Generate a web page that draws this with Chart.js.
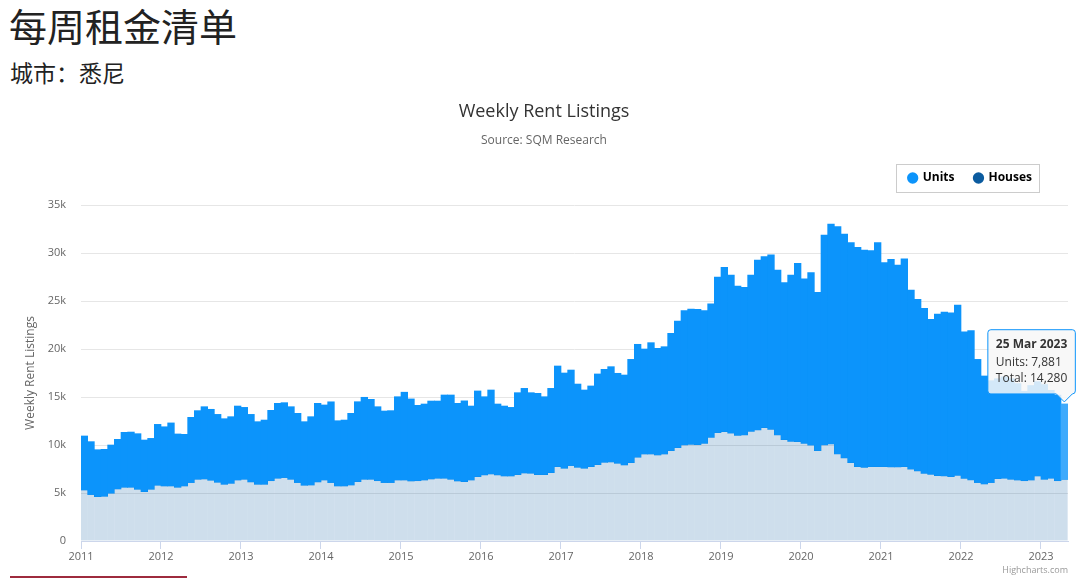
<!DOCTYPE html>
<html lang="zh">
<head>
<meta charset="utf-8">
<title>每周租金清单</title>
<script src="https://cdn.jsdelivr.net/npm/chart.js@4"></script>
<style>
  html, body { margin: 0; padding: 0; background: #fff; }
  body { width: 1080px; height: 578px; position: relative; overflow: hidden; font-family: "Noto Sans CJK SC", sans-serif; color: #222; }
  h1 { position: absolute; left: 9px; top: 6px; margin: 0; font-size: 38px; font-weight: 400; line-height: 1; }
  h2 { position: absolute; left: 10px; top: 61px; margin: 0; font-size: 23px; font-weight: 400; line-height: 1; }
  .box { position: absolute; left: 0; top: 88px; width: 1080px; height: 490px; }
  .credit { position: absolute; right: 12px; top: 563px; font: 9px "Open Sans", sans-serif; color: #999; }
  .rule { position: absolute; left: 10px; top: 576px; width: 177px; height: 2px; background: #9e2b3e; }
</style>
</head>
<body>
<h1>每周租金清单</h1>
<h2>城市：悉尼</h2>
<div class="box"><canvas id="rent-chart"></canvas></div>
<div class="credit">Highcharts.com</div>
<div class="rule"></div>
<script>
// monthly readings, Jan 2011 .. Mar 2023 (last one is the 25 Mar 2023 week)
const startYear = 2011;
const lastDate = '25 Mar 2023';
const monthNames = ['Jan', 'Feb', 'Mar', 'Apr', 'May', 'Jun', 'Jul', 'Aug', 'Sep', 'Oct', 'Nov', 'Dec'];

const units = [
  5630, 5520, 4890, 4900, 5030, 5170, 5730, 5760, 5800, 5380, 5310, 6350,
  6170, 6570, 5560, 5380, 6800, 7160, 7530, 7400, 7080, 6840, 6950, 7710,
  7500, 7040, 6530, 6700, 7330, 7810, 7810, 7570, 7220, 6630, 7120, 8190,
  7820, 8420, 6800, 6870, 7470, 8330, 8550, 8340, 7710, 7460, 7500, 8680,
  9150, 8550, 7850, 7920, 8120, 8050, 8680, 8790, 8090, 8420, 7710, 8930,
  8150, 8750, 7390, 7290, 7150, 8540, 8820, 8400, 8470, 8120, 8780, 10490,
  9930, 9960, 8680, 8160, 8410, 9450, 9690, 9930, 9380, 9370, 10760, 11770,
  10940, 11600, 11110, 11180, 12220, 13200, 13990, 14100, 14100, 13820, 13900, 16220,
  17110, 16480, 15550, 15380, 16280, 17710, 17810, 18170, 17190, 16350, 17320, 18570,
  17130, 17980, 16490, 21870, 22920, 23680, 23330, 22920, 22850, 22640, 22500, 23340,
  21260, 21630, 21040, 21660, 18680, 17880, 17190, 16150, 16840, 17080, 17080, 17740,
  15270, 15560, 12840, 11250, 10620, 10410, 10570, 10480, 10050, 9320, 9850, 9830,
  9880, 9170, 8920, 7881
];

const houses = [
  5310, 4830, 4620, 4650, 4970, 5420, 5590, 5590, 5380, 5140, 5380, 5800,
  5730, 5730, 5590, 5730, 6080, 6420, 6460, 6320, 6110, 5900, 6000, 6350,
  6420, 6150, 5900, 5900, 6280, 6530, 6600, 6420, 6080, 5800, 5830, 6150,
  6350, 6080, 5730, 5730, 5830, 6180, 6420, 6420, 6280, 6080, 6080, 6350,
  6350, 6250, 6280, 6350, 6460, 6530, 6530, 6420, 6250, 6180, 6350, 6700,
  6880, 6980, 6880, 6770, 6770, 6910, 7080, 7050, 6910, 6910, 7120, 7740,
  7570, 7850, 7670, 7570, 7740, 7950, 8190, 8230, 8090, 7920, 8160, 8720,
  9060, 9060, 8960, 9060, 9410, 9720, 10000, 10070, 10030, 10170, 10800, 11280,
  11390, 11220, 11010, 11040, 11420, 11560, 11810, 11630, 11040, 10560, 10380, 10350,
  10170, 9970, 9410, 10000, 10100, 9060, 8650, 8160, 7740, 7670, 7740, 7740,
  7740, 7710, 7710, 7740, 7470, 7290, 7050, 6940, 6810, 6770, 6700, 6840,
  6530, 6350, 6080, 5940, 6080, 6490, 6530, 6420, 6350, 6280, 6350, 6770,
  6420, 6530, 6280, 6399
];

const yTicks = [0, 5000, 10000, 15000, 20000, 25000, 30000, 35000];

const unitsColor = '#0c94fb';
const housesColor = '#0b5b9f';
const font = "'Open Sans', 'DejaVu Sans', sans-serif";

Chart.defaults.font.family = font;
Chart.defaults.color = '#666';

const points = vals => vals.map((v, i) => ({ x: startYear + (i + 0.5) / 12, y: v }));

// legend sits in a framed box near the right, like the original
const legendBox = {
  id: 'legendBox',
  afterLayout(chart) {
    const lg = chart.legend;
    lg.right = 1052;
    lg.top -= 11;
    lg.bottom -= 11;
  },
  afterDraw(chart) {
    const boxes = chart.legend.legendHitBoxes;
    if (!boxes || !boxes.length) return;
    const ctx = chart.ctx;
    const l = Math.min(...boxes.map(b => b.left)) - 13;
    const r = Math.max(...boxes.map(b => b.left + b.width)) + 7;
    const cy = boxes[0].top + boxes[0].height / 2;
    ctx.save();
    ctx.strokeStyle = '#cccccc';
    ctx.lineWidth = 1;
    ctx.strokeRect(Math.round(l) + 0.5, Math.round(cy - 14) + 0.5, Math.round(r - l), 28);
    ctx.restore();
  }
};

const chart = new Chart(document.getElementById('rent-chart'), {
  type: 'bar',
  data: {
    datasets: [{
      label: 'Houses',
      data: points(houses),
      backgroundColor: 'rgba(11, 91, 159, 0.2)',
      hoverBackgroundColor: 'rgba(11, 91, 159, 0.2)',
      borderWidth: 0,
      inflateAmount: 0
    }, {
      label: 'Units',
      data: points(units),
      backgroundColor: unitsColor,
      hoverBackgroundColor: '#3eaafc',
      borderWidth: 0
    }]
  },
  options: {
    responsive: true,
    maintainAspectRatio: false,
    animation: false,
    events: [],
    barPercentage: 1,
    categoryPercentage: 1,
    layout: { padding: { left: 20, right: 12, top: 0, bottom: 0 } },
    scales: {
      x: {
        type: 'linear',
        stacked: true,
        offset: false,
        min: 2011,
        max: 2023.3375,
        afterFit: s => { s.height = 37; },
        border: { color: '#ccd6eb' },
        grid: { offset: false, drawOnChartArea: false, drawTicks: true, tickLength: 8, color: '#ccd6eb' },
        ticks: {
          stepSize: 1,
          includeBounds: false,
          autoSkip: false,
          maxRotation: 0,
          padding: 1,
          color: '#666',
          font: { size: 11 },
          callback: v => Number.isInteger(v) ? String(v) : ''
        }
      },
      y: {
        stacked: true,
        min: 0,
        max: 35000,
        afterFit: s => { s.width = 61; },
        afterBuildTicks: s => { s.ticks = yTicks.map(v => ({ value: v })); },
        border: { display: false },
        grid: { color: '#e6e6e6', drawTicks: false },
        title: {
          display: true,
          text: 'Weekly Rent Listings',
          color: '#666',
          font: { size: 12 },
          padding: { top: 3, bottom: 0 }
        },
        ticks: {
          padding: 15,
          color: '#666',
          font: { size: 11 },
          callback: v => v === 0 ? '0' : (v / 1000) + 'k'
        }
      }
    },
    plugins: {
      title: {
        display: true,
        text: 'Weekly Rent Listings',
        color: '#333',
        font: { size: 18, weight: 'normal' },
        padding: { top: 13, bottom: 10 }
      },
      subtitle: {
        display: true,
        text: 'Source: SQM Research',
        color: '#666',
        font: { size: 12 },
        padding: { top: 1, bottom: 15 }
      },
      legend: {
        position: 'top',
        align: 'end',
        reverse: true,
        labels: {
          usePointStyle: true,
          pointStyle: 'circle',
          boxWidth: 8,
          boxHeight: 8,
          padding: 20,
          color: '#333',
          font: { size: 12, weight: 'bold' },
          generateLabels: ch => ch.data.datasets.map((ds, i) => ({
            text: ds.label,
            fillStyle: i === 0 ? housesColor : unitsColor,
            strokeStyle: i === 0 ? housesColor : unitsColor,
            lineWidth: 0,
            pointStyle: 'circle',
            datasetIndex: i,
            hidden: false
          }))
        }
      },
      tooltip: {
        xAlign: 'right',
        yAlign: 'bottom',
        backgroundColor: 'rgba(247, 247, 247, 0.85)',
        borderColor: unitsColor,
        borderWidth: 1,
        cornerRadius: 3,
        caretSize: 8,
        caretPadding: 2,
        padding: 8,
        displayColors: false,
        titleColor: '#333',
        bodyColor: '#333',
        titleFont: { size: 12, weight: 'bold' },
        bodyFont: { size: 12 },
        titleMarginBottom: 3,
        bodySpacing: 2,
        callbacks: {
          title: items => {
            const i = items[0].dataIndex;
            if (i === units.length - 1) return lastDate;
            return monthNames[i % 12] + ' ' + (startYear + Math.floor(i / 12));
          },
          label: item => item.dataset.label + ': ' + item.parsed.y.toLocaleString('en-US'),
          afterBody: items => {
            const i = items[0].dataIndex;
            return 'Total: ' + (units[i] + houses[i]).toLocaleString('en-US');
          }
        }
      }
    }
  },
  plugins: [legendBox]
});

const active = [{ datasetIndex: 1, index: units.length - 1 }];
chart.setActiveElements(active);
chart.tooltip.setActiveElements(active, { x: 0, y: 0 });
chart.update('none');
</script>
</body>
</html>
